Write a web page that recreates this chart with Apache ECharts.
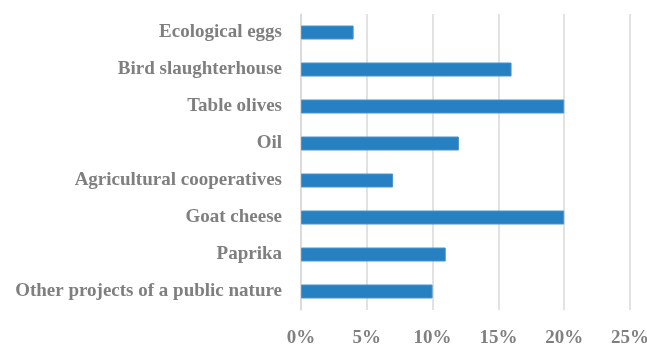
<!DOCTYPE html>
<html>
<head>
<meta charset="utf-8">
<script src="https://cdn.jsdelivr.net/npm/echarts@6/dist/echarts.min.js"></script>
<style>
  html, body { margin: 0; padding: 0; background: #fff; }
  #chart { width: 647px; height: 345px; }
</style>
</head>
<body>
<div id="chart"></div>
<script>
// categories listed bottom to top (category axis starts at the bottom)
var categories = ['Other projects of a public nature', 'Paprika', 'Goat cheese', 'Agricultural cooperatives', 'Oil', 'Table olives', 'Bird slaughterhouse', 'Ecological eggs'];
var shares = [10, 11, 20, 7, 12, 20, 16, 4];

var chart = echarts.init(document.getElementById('chart'));

var labelFont = {
    color: '#7f7f7f',
    fontFamily: 'Liberation Serif',
    fontWeight: 'bold',
    fontSize: 19
};

var option = {
    animation: false,
    grid: { left: 301, right: 17, top: 14, bottom: 35, outerBoundsMode: 'none' },
    xAxis: {
        type: 'value',
        min: 0,
        max: 25,
        interval: 5,
        axisLine: { show: false },
        axisTick: { show: false },
        splitLine: { lineStyle: { color: '#d9d9d9', width: 1.5 } },
        axisLabel: Object.assign({ formatter: '{value}%', margin: 19 }, labelFont)
    },
    yAxis: {
        type: 'category',
        data: categories,
        axisLine: { lineStyle: { color: '#d9d9d9', width: 1.5 } },
        axisTick: { show: false },
        axisLabel: Object.assign({ margin: 19 }, labelFont)
    },
    series: [
        {
            type: 'bar',
            data: shares,
            barWidth: 14,
            itemStyle: { color: '#2680c2', borderColor: '#4a94cc', borderWidth: 1 }
        }
    ]
};

option && chart.setOption(option);
</script>
</body>
</html>
